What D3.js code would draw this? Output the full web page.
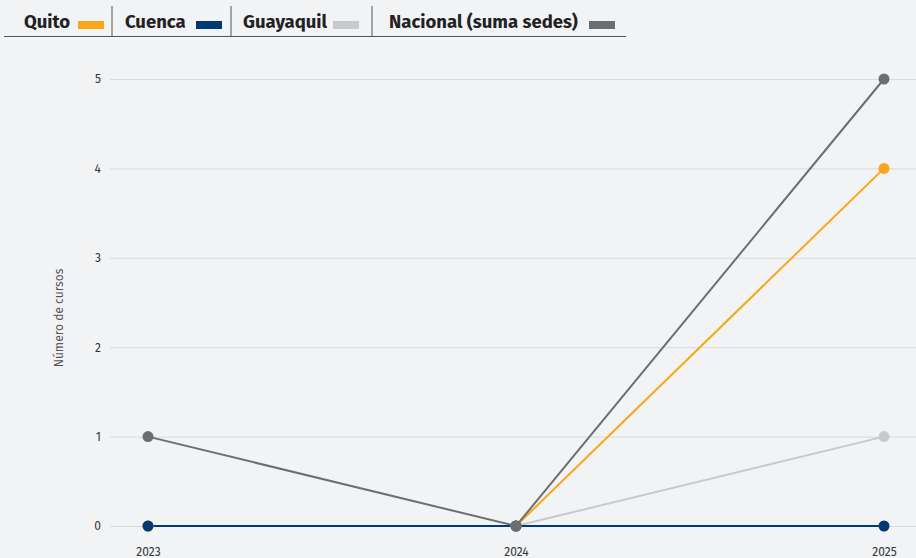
<!DOCTYPE html>
<html><head><meta charset="utf-8">
<script src="https://cdn.jsdelivr.net/npm/d3@7"></script>
<style>
html,body{margin:0;padding:0;background:#f2f3f5;}
svg{display:block;}
</style></head>
<body>
<script>
const years = ["2023","2024","2025"];
const seriesNames = ["Quito","Cuenca","Guayaquil","Nacional (suma sedes)"];
const quito = [0,0,4];
const cuenca = [0,0,0];
const guayaquil = [0,0,1];
const nacional = [1,0,5];
const yTicks = [0,1,2,3,4,5];
const colors = {"Quito":"#f9a61b","Cuenca":"#003a70","Guayaquil":"#c8c9cb","Nacional (suma sedes)":"#6d6e70"};
const valuesByName = {"Quito":quito,"Cuenca":cuenca,"Guayaquil":guayaquil,"Nacional (suma sedes)":nacional};
const drawOrder = ["Quito","Guayaquil","Cuenca","Nacional (suma sedes)"];

const W=916,H=558;
const svg=d3.select("body").append("svg").attr("width",W).attr("height",H);
svg.append("rect").attr("width",W).attr("height",H).attr("fill","#f2f3f5");

const x=d3.scalePoint().domain(years).range([148,884]);
const y=d3.scaleLinear().domain([0,5]).range([526,79]);

const font="'Fira Sans','Liberation Sans Narrow','Roboto',sans-serif";

// grid + y axis
const ya=svg.append("g").attr("transform","translate(110,0)")
  .call(d3.axisLeft(y).tickValues(yTicks).tickFormat(d3.format("d")).tickPadding(9).tickSizeInner(-(W-110)).tickSizeOuter(0));
ya.select(".domain").remove();
ya.selectAll(".tick line").attr("stroke","#d9dadc").attr("stroke-width",1);
ya.selectAll(".tick text").attr("font-family",font).attr("font-size",12).attr("fill","#333");

// x axis
const xa=svg.append("g").attr("transform","translate(0,541)")
  .call(d3.axisBottom(x).tickSize(0).tickPadding(6));
xa.select(".domain").remove();
xa.selectAll(".tick text").attr("font-family",font).attr("font-size",12).attr("fill","#333");

// y title
svg.append("text").attr("transform","translate(63,318) rotate(-90)")
  .attr("text-anchor","middle").attr("font-family",font).attr("font-size",12).attr("fill","#555")
  .text("Número de cursos");

const line=d3.line().x((d,i)=>x(years[i])).y(d=>y(d));
drawOrder.forEach(name=>{
  const vals=valuesByName[name];
  svg.append("path").datum(vals).attr("d",line).attr("fill","none")
    .attr("stroke",colors[name]).attr("stroke-width",2);
});
drawOrder.forEach(name=>{
  const vals=valuesByName[name];
  svg.append("g").selectAll("circle").data(vals).join("circle")
    .attr("cx",(d,i)=>x(years[i])).attr("cy",d=>y(d)).attr("r",5.5).attr("fill",colors[name]);
});

// legend
const lg=svg.append("g");
lg.append("line").attr("x1",4).attr("x2",626).attr("y1",36.5).attr("y2",36.5).attr("stroke","#555").attr("stroke-width",1.2);
const legendItems=[
  {name:"Quito",tx:24,sx:78,sep:112},
  {name:"Cuenca",tx:125,sx:196,sep:231},
  {name:"Guayaquil",tx:243,sx:333,sep:372},
  {name:"Nacional (suma sedes)",tx:389,sx:589,sep:null}
];
legendItems.forEach(it=>{
  lg.append("text").attr("x",it.tx).attr("y",28).attr("font-family",font).attr("font-weight","bold")
    .attr("font-size",18.5).attr("fill","#222").text(it.name);
  lg.append("rect").attr("x",it.sx).attr("y",21).attr("width",26).attr("height",8).attr("fill",colors[it.name]);
  if(it.sep!==null) lg.append("line").attr("x1",it.sep).attr("x2",it.sep).attr("y1",6).attr("y2",36).attr("stroke","#555").attr("stroke-width",1);
});
</script>
</body></html>
